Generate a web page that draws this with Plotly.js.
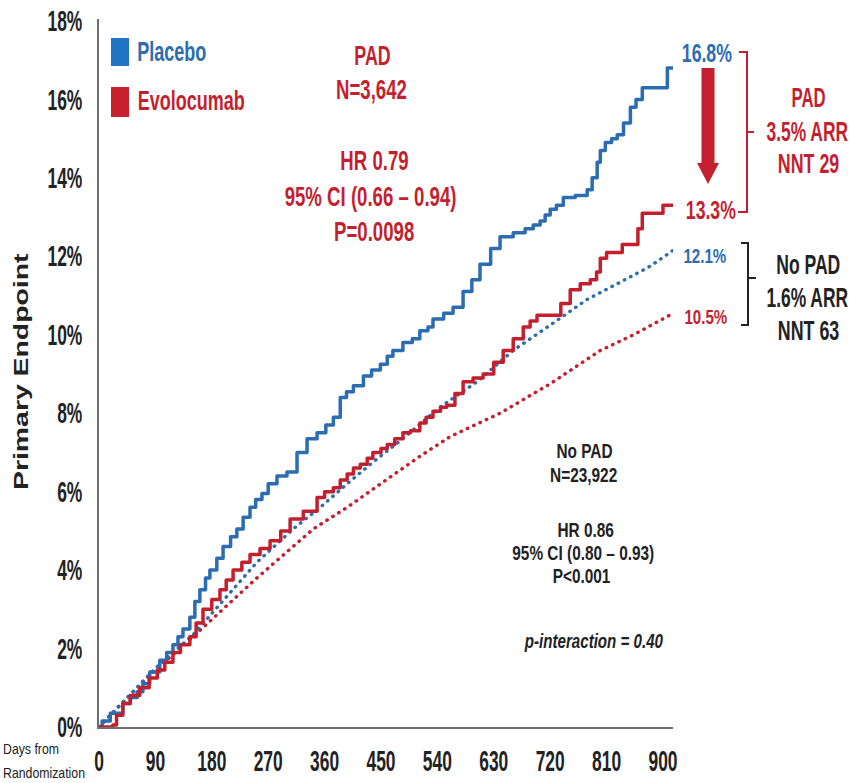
<!DOCTYPE html>
<html>
<head>
<meta charset="utf-8">
<script src="https://cdn.plot.ly/plotly-3.0.1.min.js"></script>
<style>
html,body{margin:0;padding:0;background:#fff;}
#chart{width:852px;height:783px;}
#chart path.js-line{stroke-linecap:round;stroke-linejoin:round;}
</style>
</head>
<body>
<div id="chart"></div>
<script>
// ---- Data ----
const xTicks = [0, 90, 180, 270, 360, 450, 540, 630, 720, 810, 900];
const yTicks = [0, 2, 4, 6, 8, 10, 12, 14, 16, 18];

// PAD – Placebo (solid blue)
const padPlaceboDays = [0,5,18,38,50,61,70,81,97,108,118,126,134,145,153,161,170,177,188,198,210,220,230,241,250,260,270,284,300,316,332,348,362,374,385,395,406,422,435,449,460,469,485,500,512,525,533,550,565,581,595,608,625,640,661,680,693,704,712,720,730,741,760,779,787,795,800,808,818,827,837,848,857,867,904,907,916];
const padPlaceboPct  = [0,0.15,0.35,0.6,0.75,0.9,1.1,1.4,1.7,1.9,2.1,2.3,2.5,2.8,3.2,3.5,3.8,4.0,4.3,4.6,4.85,5.05,5.35,5.6,5.8,5.95,6.2,6.4,6.5,7.0,7.35,7.5,7.7,7.9,8.4,8.55,8.7,8.95,9.1,9.25,9.45,9.6,9.8,9.9,10.1,10.2,10.4,10.55,10.7,11.1,11.4,11.8,12.2,12.5,12.6,12.7,12.8,12.9,13.05,13.2,13.3,13.5,13.55,13.7,14.0,14.4,14.7,14.9,15.0,15.1,15.4,15.8,16.0,16.3,16.3,16.8,16.8];

// PAD – Evolocumab (solid red)
const padEvoDays = [0,22,28,38,50,65,80,93,105,118,130,145,155,166,180,193,203,214,228,241,257,273,290,305,326,348,360,374,385,396,406,417,428,437,450,460,472,485,497,512,522,533,545,555,568,581,597,613,630,645,661,677,688,699,723,737,752,768,784,794,800,810,827,835,853,860,867,896,900,916];
const padEvoPct  = [0,0.05,0.3,0.6,0.8,1.0,1.25,1.45,1.65,1.9,2.1,2.3,2.65,3.0,3.25,3.5,3.75,4.0,4.2,4.4,4.55,4.75,5.0,5.3,5.5,5.85,6.0,6.1,6.3,6.45,6.6,6.7,6.85,7.0,7.1,7.2,7.35,7.5,7.55,7.75,7.9,8.05,8.15,8.2,8.5,8.8,8.9,9.0,9.3,9.6,9.9,10.2,10.35,10.5,10.5,10.8,11.15,11.3,11.4,11.6,11.95,12.1,12.1,12.3,12.3,12.7,13.1,13.1,13.3,13.3];

// No PAD – Placebo (dotted blue)
const noPadPlaceboDays = [0,30,90,150,252,310,353,396,437,481,544,603,661,725,779,827,880,916];
const noPadPlaceboPct  = [0,0.5,1.5,2.35,4.2,5.05,5.6,6.2,6.75,7.3,8.15,8.8,9.6,10.3,10.9,11.3,11.75,12.15];

// No PAD – Evolocumab (dotted red)
const noPadEvoDays = [0,30,90,150,252,342,396,449,512,560,640,720,800,853,911];
const noPadEvoPct  = [0,0.5,1.45,2.3,3.8,5.05,5.6,6.2,6.9,7.4,8.0,8.75,9.6,10.0,10.5];

// ---- Styling ----
const BLUE = '#2c6cb0';
const RED = '#c41f2e';
const DARK = '#222222';
const SANS = '"Liberation Sans", Arial, sans-serif';

const W = 852, H = 783;
const M = {l: 99, r: 179, t: 19, b: 56};
const PW = W - M.l - M.r, PH = H - M.t - M.b;
const px = x => (x - M.l) / PW;
const py = y => (H - M.b - y) / PH;

const traces = [
  {x: noPadEvoDays, y: noPadEvoPct, mode: 'lines', line: {color: RED, width: 3.4, dash: '0.5px,6.5px'}, hoverinfo: 'skip'},
  {x: noPadPlaceboDays, y: noPadPlaceboPct, mode: 'lines', line: {color: BLUE, width: 3.4, dash: '0.5px,6.5px'}, hoverinfo: 'skip'},
  {x: padPlaceboDays, y: padPlaceboPct, mode: 'lines', line: {color: BLUE, width: 3.5, shape: 'hv'}, hoverinfo: 'skip'},
  {x: padEvoDays, y: padEvoPct, mode: 'lines', line: {color: RED, width: 3.5, shape: 'hv'}, hoverinfo: 'skip'}
];

// each entry: text, anchor x, centre y (pixels), size, colour, horizontal squeeze, bold, extra
const annSpecs = [];
function ann(text, x, y, size, color, sx, bold, extra) {
  const a = Object.assign({
    text: bold ? '<b>' + text + '</b>' : text, x: px(x), y: py(y), xref: 'paper', yref: 'paper',
    xanchor: 'center', yanchor: 'middle', showarrow: false,
    font: {family: SANS, size: size, color: color}
  }, extra || {});
  annSpecs.push({sx: sx, anchor: a.xanchor === 'left' ? 'start' : 'middle'});
  return a;
}

const annotations = [
  // legend
  ann('Placebo', 171.5, 52, 27, BLUE, 0.667, true),
  ann('Evolocumab', 191.5, 101, 27, RED, 0.667, true),
  // PAD block
  ann('PAD', 372, 56, 27, RED, 0.66, true),
  ann('N=3,642', 371, 90, 27, RED, 0.69, true),
  ann('HR 0.79', 374, 161, 27, RED, 0.69, true),
  ann('95% CI (0.66 – 0.94)', 370.5, 197, 27, RED, 0.69, true),
  ann('P=0.0098', 374, 232, 27, RED, 0.69, true),
  // No PAD block
  ann('No PAD', 584, 451, 20, DARK, 0.77, true),
  ann('N=23,922', 583, 474.5, 20, DARK, 0.77, true),
  ann('HR 0.86', 585, 530, 20, DARK, 0.77, true),
  ann('95% CI (0.80 – 0.93)', 583.5, 553, 20, DARK, 0.77, true),
  ann('P<0.001', 581, 576, 20, DARK, 0.77, true),
  ann('<i>p-interaction = 0.40</i>', 593.5, 640, 21, DARK, 0.72, true),
  // right side values
  ann('16.8%', 707, 53, 26, BLUE, 0.68, true),
  ann('13.3%', 711, 210, 26, RED, 0.68, true),
  ann('12.1%', 705, 255, 21, BLUE, 0.72, true),
  ann('10.5%', 706, 316, 21, RED, 0.72, true),
  ann('PAD', 808, 98, 27, RED, 0.62, true),
  ann('3.5% ARR', 807, 132, 27, RED, 0.645, true),
  ann('NNT 29', 808, 164, 27, RED, 0.66, true),
  ann('No PAD', 808, 265, 27, DARK, 0.65, true),
  ann('1.6% ARR', 807, 298, 27, DARK, 0.645, true),
  ann('NNT 63', 808, 331, 27, DARK, 0.66, true),
  // axis titles
  ann('Primary Endpoint', 21, 372, 20, DARK, 1.42, true, {textangle: -90}),
  ann('Days from', 1, 748, 15, DARK, 0.82, false, {xanchor: 'left'}),
  ann('Randomization', 1, 772, 15, DARK, 0.82, false, {xanchor: 'left'})
];

function pathPx(pts, close) {
  return pts.map((p, i) => (i ? 'L' : 'M') + px(p[0]).toFixed(5) + ',' + py(p[1]).toFixed(5)).join(' ') + (close ? ' Z' : '');
}

const shapes = [
  {type: 'rect', xref: 'paper', yref: 'paper', x0: px(111), x1: px(129), y0: py(38), y1: py(66), fillcolor: '#1f74c6', line: {width: 0}},
  {type: 'rect', xref: 'paper', yref: 'paper', x0: px(111), x1: px(129), y0: py(87), y1: py(117), fillcolor: '#c8202f', line: {width: 0}},
  // down arrow
  {type: 'path', xref: 'paper', yref: 'paper', fillcolor: RED, line: {width: 0},
   path: pathPx([[701.5,68],[714.5,68],[714.5,163],[719,163],[708,184],[697,163],[701.5,163]], true)},
  // PAD bracket
  {type: 'path', xref: 'paper', yref: 'paper', line: {color: RED, width: 2},
   path: pathPx([[739,52],[747,52],[747,212],[738,212]], false)},
  {type: 'path', xref: 'paper', yref: 'paper', line: {color: RED, width: 2},
   path: pathPx([[747,132],[754,132]], false)},
  // No PAD bracket
  {type: 'path', xref: 'paper', yref: 'paper', line: {color: DARK, width: 2},
   path: pathPx([[741,243],[748,243],[748,325],[741,325]], false)},
  {type: 'path', xref: 'paper', yref: 'paper', line: {color: DARK, width: 2},
   path: pathPx([[748,278],[756,278]], false)}
];

const TICK_SX = 0.6;
const layout = {
  width: W, height: H,
  margin: M,
  paper_bgcolor: '#ffffff', plot_bgcolor: '#ffffff',
  showlegend: false,
  xaxis: {
    range: [0, 916], tickvals: xTicks, ticktext: xTicks.map(String),
    showgrid: false, zeroline: false, showline: true, linecolor: '#6f6f6f', linewidth: 2,
    ticks: '', ticklabelstandoff: 7,
    tickfont: {family: SANS, size: 29, color: DARK, weight: 'bold'}
  },
  yaxis: {
    range: [0, 18.05], tickvals: yTicks, ticktext: yTicks.map(v => v + '%'),
    showgrid: false, zeroline: false, showline: true, linecolor: '#6f6f6f', linewidth: 2,
    ticks: '', ticklabelstandoff: 9,
    tickfont: {family: SANS, size: 29, color: DARK, weight: 'bold'}
  },
  annotations: annotations,
  shapes: shapes
};

// squeeze an SVG text element horizontally around an anchor (emulates a condensed face)
function squeeze(t, sx, anchor) {
  const b = t.getBBox();
  let ax = b.x + b.width / 2;
  if (anchor === 'start') ax = b.x;
  if (anchor === 'end') ax = b.x + b.width;
  const prev = t.getAttribute('transform') || '';
  t.setAttribute('transform', prev + ' translate(' + ax + ',0) scale(' + sx + ',1) translate(' + (-ax) + ',0)');
}

Plotly.newPlot('chart', traces, layout, {staticPlot: true, displayModeBar: false}).then(gd => {
  const groups = gd.querySelectorAll('g.annotation');
  groups.forEach((g, i) => {
    const t = g.querySelector('text.annotation-text');
    if (t && annSpecs[i]) squeeze(t, annSpecs[i].sx, annSpecs[i].anchor);
  });
  gd.querySelectorAll('g.xtick text').forEach(t => squeeze(t, TICK_SX, 'middle'));
  gd.querySelectorAll('g.ytick text').forEach(t => squeeze(t, TICK_SX, 'end'));
});
</script>
</body>
</html>
